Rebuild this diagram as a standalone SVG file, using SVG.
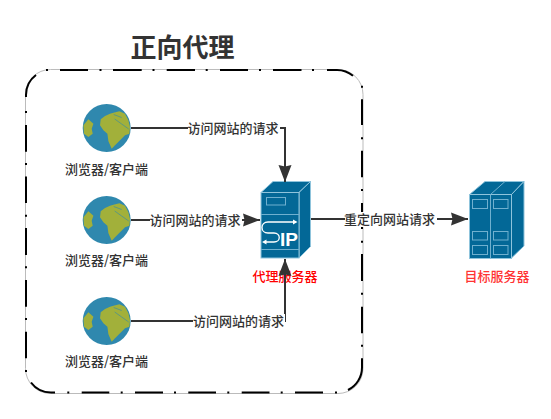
<svg xmlns="http://www.w3.org/2000/svg" width="551" height="419" viewBox="0 0 551 419">
<style>
text{font-family:"Noto Sans CJK SC","Liberation Sans",sans-serif;text-anchor:middle}
.t{font-size:13px;fill:#333;font-weight:500}
.lb{font-size:13px;fill:#333;font-weight:500}
.line{fill:none;stroke:#333;stroke-width:2}
.box{fill:#036897;stroke:#8fc4dc;stroke-width:1}
.in{fill:none;stroke:#6fb0cf;stroke-width:1}
.wh{fill:none;stroke:#fff;stroke-width:1.300}
.mask{fill:#fff}
.land{fill:#a2b03a}
</style>
<defs>
<marker id="ah" markerUnits="userSpaceOnUse" markerWidth="18" markerHeight="14" refX="17" refY="7" orient="auto"><path d="M0 0.500L17 7L0 13.500L1.500 7Z" fill="#333"/></marker>
<g id="globe">
<circle r="24" fill="#2f88ae"/>
<path class="land" d="M-6-8.700L-1.700-12L3.300-14.300L6.700-15.300L12.700-16.700L18.300-14.300L21.700-7.700L23.300-1L22.700 5.700L18.300 7.300L13.300 12.300L8.300 17.300L5 20.700L1.700 13.300L.7 5.700L-3.300 2.300L-6.700-2.700Z"/>
<path class="land" d="M-23.300-2.700L-18.300-8.700L-13.300-4.300L-15 .7L-14 5.700L-18.300 9L-22.700 5.700Z"/>
<path d="M7-13.500L15-10.500M8-9L15-4L22 1" fill="none" stroke="#2f88ae" stroke-width=".6"/>
</g>
</defs>
<text x="182.500" y="57" style="font-size:26px;font-weight:700;fill:#333">正向代理</text>
<g id="frame">
<rect x="25.500" y="69.500" width="337.500" height="324" rx="25" fill="none" stroke="#bbb" stroke-width="1"/>
<path fill="none" stroke="#000" stroke-width="2" d="M46 70H48M60 70H88M99.500 70H101.500M113 70H141.700M152.500 70H154.500M166.700 70H195M205.700 70H207.700M220 70H248M259 70H261M273 70H301.500M312 70H314M327 70H337A25 25 0 0 1 353 75.800M362 85.700V87.700M362 99.300V125M362 137.300V139.300M362 150.700V177.300M362 189V191M362 203V229M362 240.700V242.700M362 254V281M362 292.700V294.700M362 306.700V333.300M362 344.700V346.700M362 358.300V367.500A25 25 0 0 1 348 390M335 392.500H337M295 392.500H323M280.700 392.500H282.700M241.700 392.500H269.500M227.300 392.500H229.300M188.300 392.500H216M174 392.500H176M135 392.500H163M120.700 392.500H122.700M81.700 392.500H109.300M67.300 392.500H69.300M55 392.500H51A25 25 0 0 1 31 382.500M26 370V372M26 331.700V358.300M26 318V320M26 280V306.700M26 266.300V268.300M26 228V255M26 214.700V216.700M26 176.500V203M26 163V165M26 125V151.700M26 111V113M26 97V95A25 25 0 0 1 36 75"/>
</g>
<g id="client1"><use href="#globe" x="106.700" y="128"/><text class="t" x="106.500" y="174">浏览器/客户端</text></g>
<g id="client2"><use href="#globe" x="106.700" y="220"/><text class="t" x="106.500" y="265">浏览器/客户端</text></g>
<g id="client3"><use href="#globe" x="106.700" y="321"/><text class="t" x="106.500" y="366">浏览器/客户端</text></g>
<g id="proxy">
<path class="box" d="M261 192.500L273 181.500H310.500L299 192.500Z"/>
<path class="box" d="M299 192.500L310.500 181.500V246.500L299 258Z"/>
<rect class="box" x="261" y="192.500" width="38" height="65.500"/>
<rect class="in" x="266.500" y="197.500" width="19" height="7.500"/>
<path class="in" d="M261 214.500H299M261 249.500H299"/>
<path class="wh" d="M296 222H268C260 222 260 233 268 233H274C281 233 281 242 274 242H264"/>
<path d="M297.500 222L293 219.500V224.500ZM262 242L266.500 239.500V244.500Z" fill="#fff"/>
<text x="289" y="246" style="font-size:19px;font-weight:700;fill:#fff;font-family:'Liberation Sans',sans-serif">IP</text>
<text x="285" y="281" style="font-size:13px;fill:#f00;font-weight:500">代理服务器</text>
</g>
<g id="target">
<path class="box" d="M469.500 194.500L485 181.500H524L511.500 194.500Z"/>
<path class="box" d="M511.500 194.500L524 181.500V246L511.500 258Z"/>
<rect class="box" x="469.500" y="194.500" width="42" height="64"/>
<path class="in" d="M490.500 194.500V258.500M490.500 194.500L505 181.500"/>
<rect class="in" x="472.500" y="199.500" width="15" height="9"/>
<rect class="in" x="493.500" y="199.500" width="14.500" height="9"/>
<rect class="in" x="472.500" y="231.500" width="15" height="8.500"/>
<rect class="in" x="493.500" y="231.500" width="14.500" height="8.500"/>
<rect class="in" x="472.500" y="245.500" width="15" height="9"/>
<rect class="in" x="493.500" y="245.500" width="14.500" height="9"/>
<text x="497" y="281" style="font-size:13px;fill:#f33;font-weight:500">目标服务器</text>
</g>
<g id="connectors">
<path class="line" d="M131 128H285V182" marker-end="url(#ah)"/>
<path class="line" d="M131 220H260" marker-end="url(#ah)"/>
<path class="line" d="M131 321H285V259" marker-end="url(#ah)"/>
<path class="line" d="M311 219H468" marker-end="url(#ah)"/>
<rect class="mask" x="188" y="121" width="92" height="15"/>
<text class="lb" x="233" y="133">访问网站的请求</text>
<rect class="mask" x="150" y="213" width="92" height="15"/>
<text class="lb" x="195" y="225">访问网站的请求</text>
<rect class="mask" x="193" y="314" width="92" height="15"/>
<text class="lb" x="238.500" y="326">访问网站的请求</text>
<rect class="mask" x="345" y="212" width="92" height="15"/>
<text class="lb" x="389.500" y="224">重定向网站请求</text>
</g>
</svg>
